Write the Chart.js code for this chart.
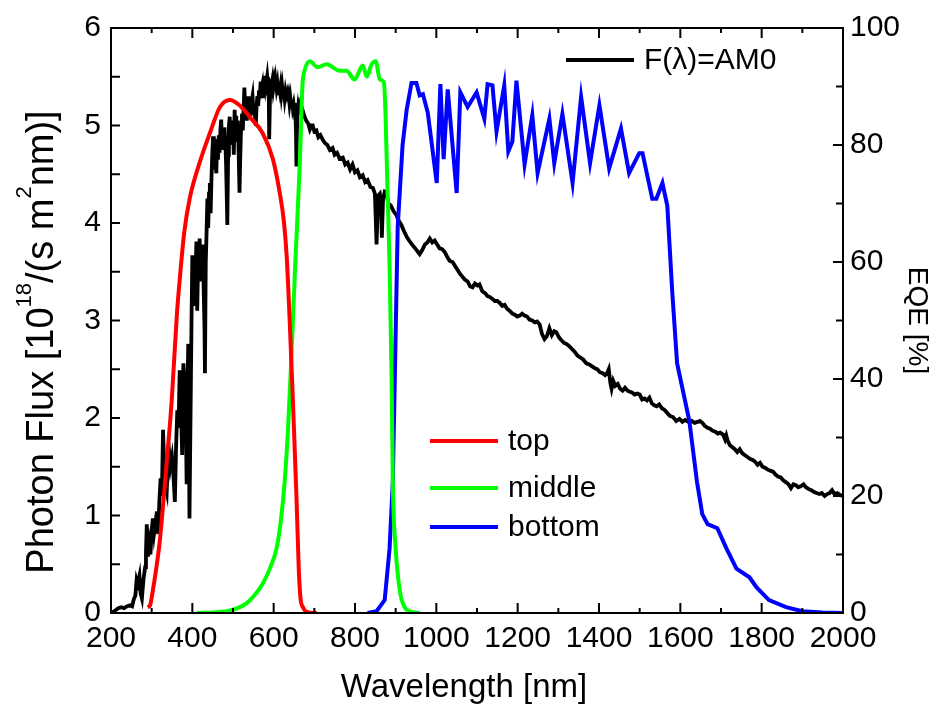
<!DOCTYPE html>
<html>
<head>
<meta charset="utf-8">
<script src="https://cdn.jsdelivr.net/npm/chart.js@4.4.0/dist/chart.umd.min.js"></script>
<style>
  html, body { margin: 0; padding: 0; background: #fff; }
  #wrap { width: 944px; height: 706px; }
</style>
</head>
<body>
<div id="wrap"><canvas id="spectrum" width="944" height="706"></canvas></div>
<script>
// AM0 photon flux, 10^18 photons/(s m^2 nm)
const amWavelength = [
  200, 205, 212, 218, 225, 232, 240, 247, 252, 256,
  260, 263, 266, 270, 273, 276, 280, 284, 286, 288,
  291, 294, 297, 300, 303, 306, 310, 313, 316, 319,
  322, 325, 328, 331, 334, 337, 340, 343, 346, 350,
  353, 357, 360, 363, 366, 369, 372, 375, 378, 381,
  384, 386, 388, 390, 393,
  396, 398, 400, 402, 404, 406, 408, 410, 412, 414,
  416, 418, 420, 422, 424, 426, 428, 430, 431, 433,
  435, 437, 439, 441, 443, 445, 447, 449, 451, 453,
  455, 457, 459, 461, 463, 465, 467, 469, 471, 473,
  475, 477, 479, 481, 483, 485, 486, 488, 490, 492,
  494, 496, 498, 500, 502, 504, 506, 508, 510, 512,
  514, 516, 518, 520, 522, 524, 526, 528, 530, 532,
  534, 536, 538, 540, 542, 544, 546, 548, 550, 552,
  554, 556, 558, 560, 562, 564, 566, 568, 570, 572,
  574, 576, 578, 580, 582, 584, 586, 588, 589, 591,
  593, 595, 597, 599, 601, 603, 605, 607, 609, 611,
  613, 615, 617, 619, 621, 623, 625, 627, 629, 631,
  633, 635, 637, 639, 641, 643, 645, 647, 649, 651,
  653, 655, 656, 658, 660, 662, 664,
  668, 671, 676, 680, 685, 689, 693, 696, 700, 705,
  710, 715, 721, 726, 732, 738, 745, 750, 756, 762,
  770, 776, 782, 788, 794, 800, 806, 812, 819, 825,
  831, 838, 844, 849, 853, 857, 861, 864, 866, 869,
  873, 877, 882, 888, 895, 902, 908, 914, 920, 927,
  933, 940, 946, 952, 959, 965, 972, 978, 984, 990,
  996, 1002, 1008, 1015, 1021, 1027, 1033, 1040, 1046, 1052,
  1058, 1064, 1070, 1077, 1083, 1089, 1095, 1101, 1106, 1113,
  1120, 1126, 1132, 1138, 1144, 1150, 1156, 1162, 1168, 1174,
  1180, 1187, 1193, 1199, 1205, 1211, 1217, 1223, 1229, 1236,
  1242, 1248, 1254, 1260, 1266, 1272, 1278, 1284, 1290, 1295,
  1301, 1307, 1314, 1320, 1326, 1333, 1340, 1347, 1354, 1361,
  1369, 1376, 1383, 1390, 1396, 1402, 1409, 1415, 1421, 1424,
  1428, 1431, 1435, 1440, 1446, 1452, 1458, 1464, 1470, 1476,
  1482, 1488, 1494, 1500, 1506, 1512, 1518, 1524, 1530, 1536,
  1542, 1548, 1555, 1562, 1568, 1575, 1582, 1590, 1598, 1605,
  1612, 1620, 1628, 1635, 1642, 1648, 1654, 1660, 1667, 1673,
  1679, 1686, 1692, 1698, 1705, 1710, 1713, 1717, 1722, 1728,
  1734, 1740, 1746, 1752, 1758, 1765, 1772, 1778, 1784, 1790,
  1796, 1802, 1808, 1815, 1821, 1828, 1834, 1840, 1847, 1853,
  1860, 1866, 1872, 1878, 1884, 1890, 1896, 1903, 1909, 1916,
  1922, 1929, 1935, 1942, 1948, 1955, 1961, 1967, 1973, 1979,
  1986, 1993, 2000,
];
const amFlux = [
  0.00, 0.01, 0.03, 0.05, 0.06, 0.05, 0.07, 0.08, 0.07, 0.14,
  0.18, 0.34, 0.30, 0.38, 0.20, 0.15, 0.35, 0.47, 0.62, 0.91,
  0.58, 0.70, 0.60, 0.85, 0.97, 0.82, 0.95, 1.04, 0.81, 1.15,
  1.38, 1.20, 1.88, 1.45, 1.30, 1.24, 1.55, 1.65, 1.50, 1.60,
  1.45, 1.14, 1.70, 2.08, 1.90, 2.49, 2.10, 1.62, 2.56, 2.35,
  2.00, 1.32, 2.30, 2.76, 0.97,
  2.20, 3.00, 3.67, 3.30, 3.55, 3.15, 3.50, 3.81, 3.10, 3.55,
  3.65, 3.84, 3.40, 3.70, 3.55, 3.78, 3.30, 2.90, 2.46, 3.60,
  3.90, 4.25, 3.95, 4.30, 4.41, 4.10, 4.45, 4.70, 4.89, 4.55,
  4.80, 4.62, 4.51, 4.86, 4.65, 4.90, 4.72, 4.95, 5.06, 4.80,
  4.95, 4.75, 4.98, 4.85, 4.60, 4.20, 3.98, 4.70, 5.00, 5.09,
  4.85, 5.05, 4.80, 5.00, 4.70, 5.16, 4.95, 5.10, 4.85, 5.05,
  4.70, 4.31, 4.70, 5.00, 5.12, 4.95, 5.15, 5.39, 5.15, 5.25,
  5.05, 5.20, 5.30, 5.12, 5.22, 5.10, 5.25, 5.30, 5.15, 5.23,
  5.10, 5.00, 5.20, 5.30, 5.20, 5.36, 5.30, 5.45, 5.38, 5.42,
  5.30, 5.45, 5.40, 5.51, 5.44, 5.50, 5.40, 5.30, 4.86, 5.30,
  5.48, 5.42, 5.47, 5.38, 5.44, 5.36, 5.45, 5.38, 5.43, 5.33,
  5.40, 5.35, 5.41, 5.32, 5.39, 5.30, 5.36, 5.28, 5.35, 5.30,
  5.33, 5.25, 5.30, 5.22, 5.28, 5.20, 5.26, 5.18, 5.22, 5.15,
  5.23, 4.90, 4.58, 5.10, 5.18, 5.12, 5.19,
  5.12, 5.16, 5.09, 5.05, 5.02, 4.96, 5.00, 5.00, 4.94, 4.95,
  4.88, 4.90, 4.85, 4.82, 4.80, 4.75, 4.77, 4.70, 4.72, 4.66,
  4.67, 4.60, 4.62, 4.55, 4.60, 4.52, 4.54, 4.47, 4.49, 4.42,
  4.44, 4.37, 4.36, 4.30, 3.78, 4.28, 4.30, 4.20, 3.85, 4.25,
  4.32, 4.31, 4.20, 4.18, 4.12, 4.08, 4.02, 3.98, 3.92, 3.86,
  3.82, 3.78, 3.75, 3.72, 3.68, 3.72, 3.78, 3.80, 3.84, 3.80,
  3.82, 3.78, 3.74, 3.73, 3.70, 3.65, 3.61, 3.60, 3.56, 3.52,
  3.48, 3.45, 3.42, 3.40, 3.35, 3.34, 3.38, 3.36, 3.37, 3.30,
  3.28, 3.25, 3.24, 3.22, 3.20, 3.20, 3.18, 3.15, 3.16, 3.12,
  3.10, 3.07, 3.06, 3.04, 3.05, 3.07, 3.05, 3.04, 3.01, 3.00,
  2.98, 2.99, 2.96, 2.86, 2.81, 2.84, 2.92, 2.85, 2.89, 2.88,
  2.83, 2.80, 2.77, 2.76, 2.74, 2.71, 2.68, 2.64, 2.62, 2.60,
  2.56, 2.55, 2.53, 2.51, 2.50, 2.47, 2.46, 2.44, 2.47, 2.50,
  2.36, 2.30, 2.38, 2.33, 2.35, 2.30, 2.28, 2.31, 2.28, 2.27,
  2.26, 2.24, 2.25, 2.24, 2.19, 2.20, 2.18, 2.21, 2.15, 2.13,
  2.12, 2.14, 2.10, 2.08, 2.05, 2.02, 2.01, 1.97, 1.99, 1.96,
  1.98, 1.96, 1.97, 1.95, 1.96, 1.97, 1.95, 1.92, 1.90, 1.89,
  1.87, 1.86, 1.84, 1.85, 1.83, 1.78, 1.82, 1.76, 1.72, 1.70,
  1.68, 1.65, 1.68, 1.64, 1.62, 1.60, 1.58, 1.57, 1.55, 1.52,
  1.54, 1.50, 1.49, 1.47, 1.46, 1.45, 1.42, 1.40, 1.39, 1.36,
  1.34, 1.32, 1.28, 1.32, 1.31, 1.29, 1.30, 1.32, 1.29, 1.27,
  1.26, 1.24, 1.23, 1.22, 1.23, 1.20, 1.22, 1.23, 1.26, 1.22,
  1.23, 1.21, 1.20,
];

// external quantum efficiency of the three subcells, %
const topWavelength = [290, 296, 303, 310, 320, 330, 337, 349, 362, 369, 380, 394, 418, 443, 468, 492, 516, 541, 573, 598, 615, 625, 632, 640, 648, 656, 662, 666, 672, 681, 706];
const topEqe = [1.0, 1.3, 3.9, 7.0, 12.3, 20.0, 25.8, 36.0, 51.0, 57.0, 65.0, 71.0, 77.0, 82.0, 86.5, 87.7, 86.8, 84.8, 82.0, 77.6, 71.8, 67.0, 61.0, 49.0, 35.0, 20.0, 7.0, 2.5, 1.0, 0.2, 0.0];

const midWavelength = [411, 450, 484, 510, 534, 555, 573, 590, 607, 618, 627, 635, 643, 653, 664, 671, 676, 689, 708, 730, 762, 779, 799, 819, 829, 841, 851, 861, 871, 875, 880, 885, 890, 893, 900, 910, 922, 935, 959];
const midEqe = [0.0, 0.1, 0.3, 0.8, 1.7, 3.2, 5.0, 7.5, 11.0, 16.0, 22.4, 31.0, 43.0, 59.5, 76.4, 90.4, 92.7, 94.3, 93.3, 93.8, 92.7, 92.7, 91.2, 93.6, 91.7, 93.8, 94.3, 91.2, 90.7, 85.3, 72.0, 59.5, 40.0, 22.4, 11.0, 3.9, 1.0, 0.3, 0.0];

const botWavelength = [831, 853, 873, 885, 893, 905, 917, 927, 939, 951, 959, 967, 979, 1001, 1010, 1018, 1028, 1050, 1059, 1077, 1099, 1118, 1126, 1138, 1148, 1167, 1177, 1187, 1197, 1217, 1236, 1249, 1278, 1290, 1310, 1335, 1356, 1378, 1401, 1425, 1454, 1474, 1499, 1507, 1531, 1541, 1556, 1568, 1580, 1592, 1622, 1641, 1654, 1667, 1691, 1713, 1738, 1770, 1787, 1818, 1860, 1900, 1950, 2000];
const botEqe = [0.0, 0.3, 2.2, 11.0, 22.4, 66.0, 80.0, 86.0, 90.6, 90.6, 88.5, 88.7, 85.5, 73.5, 90.4, 77.6, 89.5, 71.8, 89.0, 86.5, 89.0, 84.5, 90.4, 90.2, 82.3, 90.2, 78.9, 80.6, 91.0, 76.7, 85.1, 75.2, 84.5, 76.9, 85.3, 73.5, 88.2, 76.9, 86.8, 76.0, 82.8, 75.2, 78.6, 78.6, 70.8, 70.8, 73.5, 69.6, 55.0, 42.7, 32.9, 22.4, 16.9, 15.2, 14.5, 11.1, 7.6, 6.1, 4.4, 2.2, 1.0, 0.3, 0.1, 0.0];

// tick values
const waveTicks = [200, 400, 600, 800, 1000, 1200, 1400, 1600, 1800, 2000];
const fluxTicks = [0, 1, 2, 3, 4, 5, 6];
const eqeTicks = [0, 20, 40, 60, 80, 100];

const family = "'Liberation Sans', Arial, sans-serif";
Chart.defaults.font.family = family;
Chart.defaults.color = '#000';

function toPoints(xs, ys) {
  return xs.map(function (x, i) {
    return { x: x, y: ys[i] };
  });
}

function fixedTicks(values) {
  return function (scale) {
    scale.ticks = values.map(function (v) {
      return { value: v };
    });
  };
}

function plainLabel(value) {
  return String(value);
}

// box around the plot with inward major/minor ticks
const axisFrame = {
  id: 'axisFrame',
  afterDatasetsDraw(chart) {
    const { ctx, chartArea: a, scales } = chart;
    ctx.save();
    ctx.strokeStyle = '#000';
    ctx.lineWidth = 2;
    ctx.strokeRect(a.left, a.top, a.right - a.left, a.bottom - a.top);
    ctx.beginPath();
    for (let v = 200; v <= 2000; v += 100) {
      let px = scales.x.getPixelForValue(v);
      let len = v % 200 === 0 ? 10 : 5;
      ctx.moveTo(px, a.bottom);
      ctx.lineTo(px, a.bottom - len);
      ctx.moveTo(px, a.top);
      ctx.lineTo(px, a.top + len);
    }
    for (let v = 0; v <= 6; v += 0.5) {
      let py = scales.y.getPixelForValue(v);
      ctx.moveTo(a.left, py);
      ctx.lineTo(a.left + 9, py);
    }
    for (let v = 0; v <= 100; v += 10) {
      let py = scales.y1.getPixelForValue(v);
      let len = v % 20 === 0 ? 10 : 7;
      ctx.moveTo(a.right, py);
      ctx.lineTo(a.right - len, py);
    }
    ctx.stroke();
    ctx.restore();
  },
};

// axis titles (the flux one needs superscripts) and the two legend blocks
const annotations = {
  id: 'annotations',
  afterDraw(chart) {
    const ctx = chart.ctx;
    ctx.save();
    ctx.fillStyle = '#000';

    //Wavelength title
    ctx.font = '33px ' + family;
    ctx.textAlign = 'center';
    ctx.textBaseline = 'alphabetic';
    ctx.fillText('Wavelength [nm]', 464, 697);

    //Flux title: [text, size, raise]
    let parts = [
      ['Photon Flux [10', 38, 0],
      ['18', 22, 22],
      ['/(s m', 38, 0],
      ['2', 22, 22],
      ['nm)]', 38, 0],
    ];
    let total = 0;
    parts.forEach(function (p) {
      ctx.font = p[1] + 'px ' + family;
      total += ctx.measureText(p[0]).width;
    });
    ctx.translate(53, 342);
    ctx.rotate(-Math.PI / 2);
    ctx.textAlign = 'left';
    let x = -total / 2;
    parts.forEach(function (p) {
      ctx.font = p[1] + 'px ' + family;
      ctx.fillText(p[0], x, -p[2]);
      x += ctx.measureText(p[0]).width;
    });
    ctx.setTransform(1, 0, 0, 1, 0, 0);

    //Legends
    let entries = [
      { label: 'F(\u03bb)=AM0', color: '#000000', x: 566, y: 60 },
      { label: 'top', color: '#ff0000', x: 430, y: 441 },
      { label: 'middle', color: '#00ff00', x: 430, y: 488 },
      { label: 'bottom', color: '#0000ff', x: 430, y: 527 },
    ];
    ctx.font = '30px ' + family;
    ctx.textBaseline = 'middle';
    ctx.lineWidth = 4;
    entries.forEach(function (e) {
      ctx.strokeStyle = e.color;
      ctx.beginPath();
      ctx.moveTo(e.x, e.y);
      ctx.lineTo(e.x + 68, e.y);
      ctx.stroke();
      ctx.fillText(e.label, e.x + 78, e.y + 1);
    });
    ctx.restore();
  },
};

const ctx = document.getElementById('spectrum');

new Chart(ctx, {
  type: 'line',
  data: {
    datasets: [
      {
        label: 'top',
        data: toPoints(topWavelength, topEqe),
        yAxisID: 'y1',
        borderColor: '#ff0000',
        borderWidth: 4,
        pointRadius: 0,
        cubicInterpolationMode: 'monotone',
      },
      {
        label: 'middle',
        data: toPoints(midWavelength, midEqe),
        yAxisID: 'y1',
        borderColor: '#00ff00',
        borderWidth: 4,
        pointRadius: 0,
        cubicInterpolationMode: 'monotone',
      },
      {
        label: 'bottom',
        data: toPoints(botWavelength, botEqe),
        yAxisID: 'y1',
        borderColor: '#0000ff',
        borderWidth: 4,
        pointRadius: 0,
        tension: 0,
      },
      {
        label: 'F(\u03bb)=AM0',
        data: toPoints(amWavelength, amFlux),
        yAxisID: 'y',
        borderColor: '#000000',
        borderWidth: 3.8,
        pointRadius: 0,
        tension: 0,
      },
    ],
  },
  options: {
    responsive: false,
    animation: false,
    devicePixelRatio: 1,
    layout: {
      padding: { top: 20, left: 0, right: 0, bottom: 0 },
    },
    plugins: {
      legend: { display: false },
      tooltip: { enabled: false },
    },
    scales: {
      x: {
        type: 'linear',
        min: 200,
        max: 2000,
        afterBuildTicks: fixedTicks(waveTicks),
        afterFit: function (scale) {
          scale.height = 93;
        },
        ticks: {
          font: { size: 30 },
          color: '#000',
          padding: 8,
          maxRotation: 0,
          autoSkip: false,
          callback: plainLabel,
        },
        grid: { display: false, drawTicks: false },
        border: { display: false },
      },
      y: {
        position: 'left',
        min: 0,
        max: 6,
        afterBuildTicks: fixedTicks(fluxTicks),
        afterFit: function (scale) {
          scale.width = 111;
        },
        ticks: {
          font: { size: 30 },
          color: '#000',
          padding: 10,
          callback: plainLabel,
        },
        grid: { display: false, drawTicks: false },
        border: { display: false },
      },
      y1: {
        position: 'right',
        min: 0,
        max: 100,
        afterBuildTicks: fixedTicks(eqeTicks),
        afterFit: function (scale) {
          scale.width = 101;
        },
        ticks: {
          font: { size: 30 },
          color: '#000',
          padding: 7,
          callback: plainLabel,
        },
        grid: { display: false, drawTicks: false },
        border: { display: false },
        title: {
          display: true,
          text: 'EQE [%]',
          font: { size: 28 },
          color: '#000',
          padding: { top: 10, bottom: 0 },
        },
      },
    },
  },
  plugins: [axisFrame, annotations],
});
</script>
</body>
</html>
